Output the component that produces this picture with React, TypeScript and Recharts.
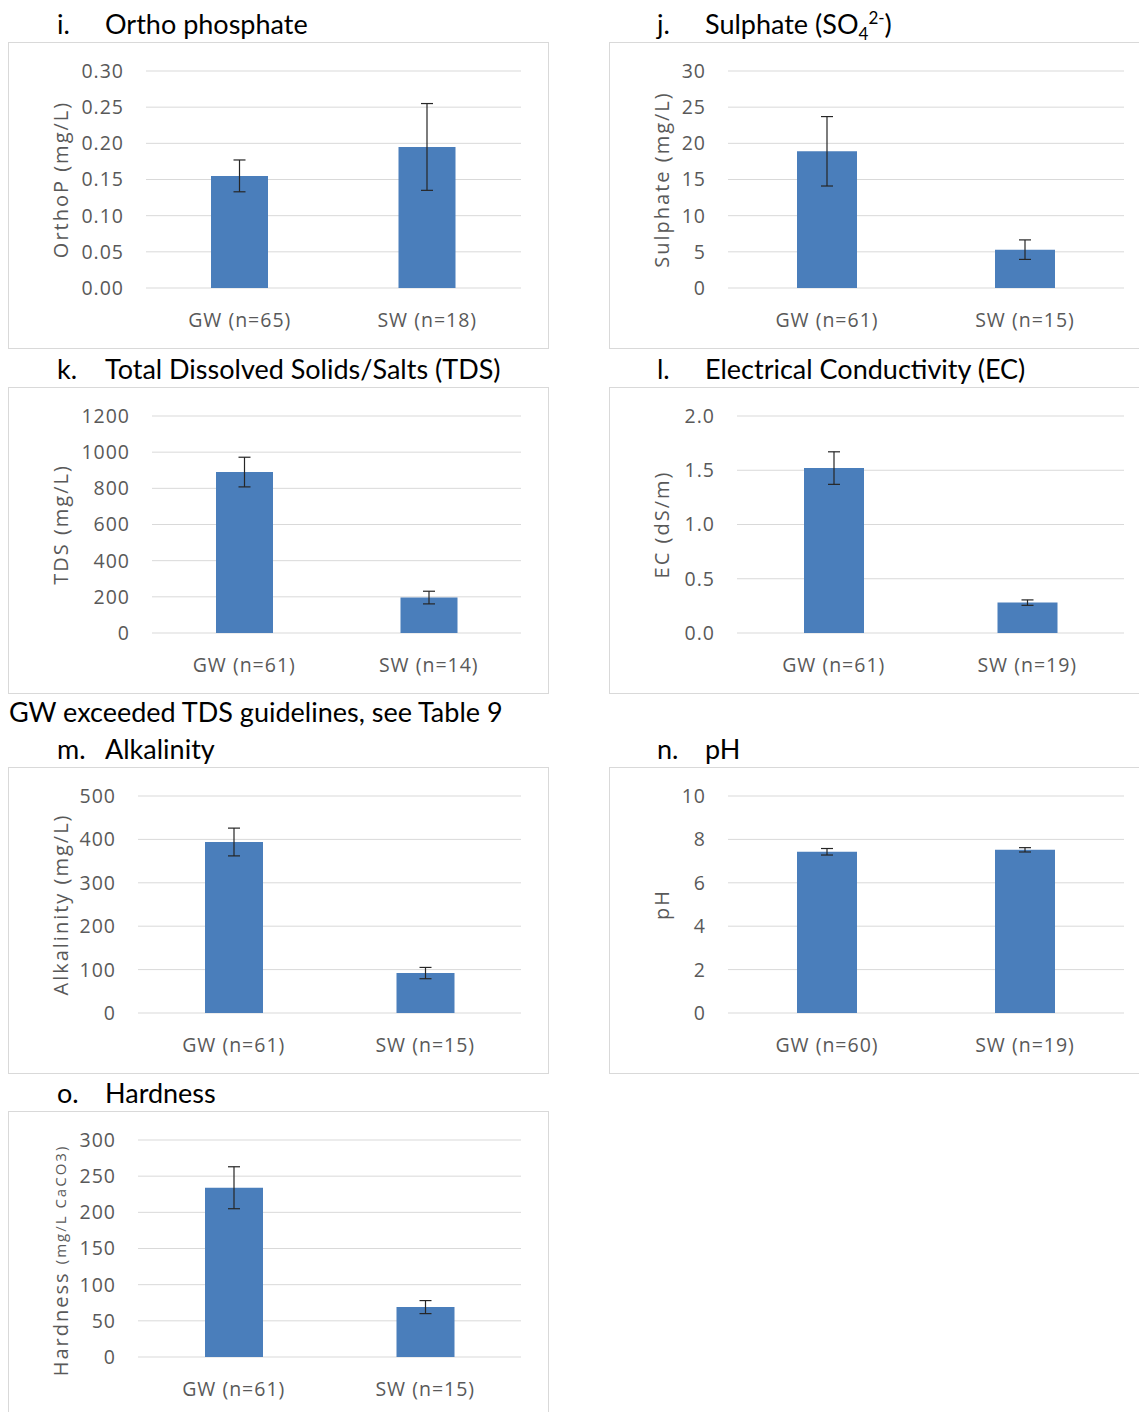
import React from 'react'
import { Bar, BarChart, CartesianGrid, ErrorBar, XAxis, YAxis } from 'recharts'

// Mean ± error per parameter, groundwater (GW) vs surface water (SW)
const orthoPGroups = ['GW (n=65)', 'SW (n=18)']
const orthoPMeans = [0.155, 0.195]
const orthoPErrors = [0.022, 0.06]
const orthoPTicks = [0, 0.05, 0.1, 0.15, 0.2, 0.25, 0.3]

const sulphateGroups = ['GW (n=61)', 'SW (n=15)']
const sulphateMeans = [18.9, 5.3]
const sulphateErrors = [4.8, 1.35]
const sulphateTicks = [0, 5, 10, 15, 20, 25, 30]

const tdsGroups = ['GW (n=61)', 'SW (n=14)']
const tdsMeans = [890, 196]
const tdsErrors = [82, 35]
const tdsTicks = [0, 200, 400, 600, 800, 1000, 1200]

const ecGroups = ['GW (n=61)', 'SW (n=19)']
const ecMeans = [1.52, 0.28]
const ecErrors = [0.15, 0.025]
const ecTicks = [0, 0.5, 1, 1.5, 2]

const alkGroups = ['GW (n=61)', 'SW (n=15)']
const alkMeans = [394, 92]
const alkErrors = [32, 13]
const alkTicks = [0, 100, 200, 300, 400, 500]

const phGroups = ['GW (n=60)', 'SW (n=19)']
const phMeans = [7.43, 7.52]
const phErrors = [0.15, 0.1]
const phTicks = [0, 2, 4, 6, 8, 10]

const hardGroups = ['GW (n=61)', 'SW (n=15)']
const hardMeans = [234, 69]
const hardErrors = [29, 9]
const hardTicks = [0, 50, 100, 150, 200, 250, 300]

const BOX_W = 541
const BOX_H = 307
const LEFT_COL = 8
const RIGHT_COL = 609
const ROW_TOPS = [42, 387, 767, 1111]

const GREY = '#595959'
const BAR_FILL = '#4a7ebb'
const CHART_FONT = '"Open Sans", sans-serif'
const HEAD_FONT = 'Lato, sans-serif'

function AxisTitle({ viewBox, shift = 0, children }: any) {
  const cy = (viewBox ? viewBox.y + viewBox.height / 2 : 29 + 217 / 2) + shift
  const cx = 52
  return (
    <text
      x={cx} y={cy} transform={`rotate(-90, ${cx}, ${cy})`}
      textAnchor="middle" dominantBaseline="central"
      fill={GREY} fontFamily={CHART_FONT} fontSize={20}
      style={{ letterSpacing: '2px' }}
    >
      {children}
    </text>
  )
}

function Panel({ left, top, groups, means, errors, ticks, decimals, axisWidth, marginRight, barSize, title, titleShift = 0 }: {
  left: number; top: number; groups: string[]; means: number[]; errors: number[]; ticks: number[]
  decimals: number; axisWidth: number; marginRight: number; barSize: number; title: React.ReactNode
  titleShift?: number
}) {
  const data = groups.map((label, i) => ({ label, value: means[i], err: errors[i] }))
  const tickStyle = { fill: GREY, fontSize: 19.5, fontFamily: CHART_FONT, style: { letterSpacing: '1px' } }
  return (
    <div style={{
      position: 'absolute', left, top, width: BOX_W, height: BOX_H,
      border: '1px solid #d9d9d9', boxSizing: 'border-box', background: '#fff',
    }}>
      <div style={{ position: 'absolute', left: -1, top: -1 }}>
        <BarChart width={BOX_W} height={BOX_H} data={data}
          margin={{ top: 29, right: marginRight, bottom: 0, left: 0 }}>
          <CartesianGrid vertical={false} stroke="#d9d9d9" />
          <XAxis dataKey="label" axisLine={false} tickLine={false} tickSize={0} tickMargin={25}
            height={61} interval={0} tick={tickStyle} />
          <YAxis type="number" domain={[0, ticks[ticks.length - 1]]} ticks={ticks} interval={0}
            axisLine={false} tickLine={false} tickSize={0} tickMargin={22} width={axisWidth}
            tick={tickStyle} tickFormatter={(v: number) => v.toFixed(decimals)}
            label={(p: any) => <AxisTitle viewBox={p?.viewBox} shift={titleShift}>{title}</AxisTitle>} />
          <Bar dataKey="value" fill={BAR_FILL} barSize={barSize} isAnimationActive={false}>
            <ErrorBar dataKey="err" width={6} stroke="#262626" strokeWidth={1.2} direction="y" />
          </Bar>
        </BarChart>
      </div>
    </div>
  )
}

function Heading({ x, boxTop, letter, children }: { x: number; boxTop: number; letter: string; children: React.ReactNode }) {
  const style: React.CSSProperties = {
    position: 'absolute', top: boxTop - 32, fontFamily: HEAD_FONT, fontSize: 27,
    lineHeight: '27px', color: '#000', whiteSpace: 'nowrap',
  }
  return (
    <>
      <div style={{ ...style, left: x }}>{letter}</div>
      <div style={{ ...style, left: x + 48 }}>{children}</div>
    </>
  )
}

// sub/superscripts must not grow the heading's line box
const scriptStyle: React.CSSProperties = { fontSize: 17, lineHeight: 0 }

export default function App() {
  return (
    <div style={{
      position: 'absolute', left: 0, top: 0, width: 1139, height: 1412,
      overflow: 'hidden', background: '#fff',
    }}>
      <Heading x={57} boxTop={ROW_TOPS[0]} letter="i.">Ortho phosphate</Heading>
      <Heading x={657} boxTop={ROW_TOPS[0]} letter="j.">
        Sulphate (SO<sub style={scriptStyle}>4</sub><sup style={scriptStyle}>2-</sup>)
      </Heading>
      <Heading x={57} boxTop={ROW_TOPS[1]} letter="k.">Total Dissolved Solids/Salts (TDS)</Heading>
      <Heading x={657} boxTop={ROW_TOPS[1]} letter="l.">Electrical Conductivity (EC)</Heading>
      <div style={{
        position: 'absolute', left: 9, top: 698, fontFamily: HEAD_FONT, fontSize: 27,
        lineHeight: '27px', whiteSpace: 'nowrap',
      }}>
        GW exceeded TDS guidelines, see Table 9
      </div>
      <Heading x={57} boxTop={ROW_TOPS[2]} letter="m.">Alkalinity</Heading>
      <Heading x={657} boxTop={ROW_TOPS[2]} letter="n.">pH</Heading>
      <Heading x={57} boxTop={ROW_TOPS[3]} letter="o.">Hardness</Heading>

      <Panel left={LEFT_COL} top={ROW_TOPS[0]} groups={orthoPGroups} means={orthoPMeans} errors={orthoPErrors}
        ticks={orthoPTicks} decimals={2} axisWidth={138} marginRight={28} barSize={57} title="OrthoP (mg/L)" />
      <Panel left={RIGHT_COL} top={ROW_TOPS[0]} groups={sulphateGroups} means={sulphateMeans} errors={sulphateErrors}
        ticks={sulphateTicks} decimals={0} axisWidth={119} marginRight={26} barSize={60} title="Sulphate (mg/L)" />
      <Panel left={LEFT_COL} top={ROW_TOPS[1]} groups={tdsGroups} means={tdsMeans} errors={tdsErrors}
        ticks={tdsTicks} decimals={0} axisWidth={144} marginRight={28} barSize={57} title="TDS (mg/L)" />
      <Panel left={RIGHT_COL} top={ROW_TOPS[1]} groups={ecGroups} means={ecMeans} errors={ecErrors}
        ticks={ecTicks} decimals={1} axisWidth={128} marginRight={26} barSize={60} title="EC (dS/m)" />
      <Panel left={LEFT_COL} top={ROW_TOPS[2]} groups={alkGroups} means={alkMeans} errors={alkErrors}
        ticks={alkTicks} decimals={0} axisWidth={130} marginRight={28} barSize={58} title="Alkalinity (mg/L)" />
      <Panel left={RIGHT_COL} top={ROW_TOPS[2]} groups={phGroups} means={phMeans} errors={phErrors}
        ticks={phTicks} decimals={0} axisWidth={119} marginRight={26} barSize={60} title="pH" />
      <Panel left={LEFT_COL} top={ROW_TOPS[3]} groups={hardGroups} means={hardMeans} errors={hardErrors}
        ticks={hardTicks} decimals={0} axisWidth={130} marginRight={28} barSize={58} titleShift={12}
        title={<>Hardness <tspan fontSize={15}>(mg/L CaCO3)</tspan></>} />
    </div>
  )
}
